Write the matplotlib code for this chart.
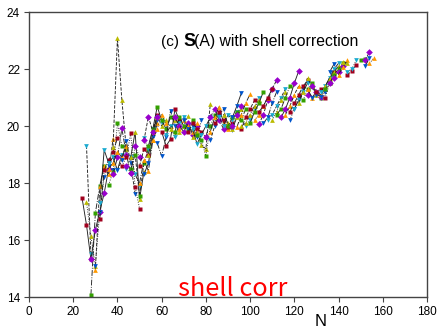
import matplotlib
matplotlib.use('Agg')
import matplotlib.pyplot as plt

# isotopic chains: (first N, S values at N, N+2, N+4 ...)
chains_light = [
    (24, [17.47, 16.53, 15.32]),
    (26, [19.31, 15.5]),
    (26, [17.33, 16.14, 15.1]),
    (28, [14.07, 16.94, 17.9, 18.6]),
    (28, [15.32, 16.35, 17.0, 17.64, 18.5]),
    (30, [14.95, 17.9, 18.6, 18.3, 19.56]),
    (30, [15.1, 17.0, 18.2, 18.6, 18.45]),
    (32, [16.73, 18.45, 18.8, 19.1, 19.57]),
    (32, [17.29, 19.16, 18.7, 18.9, 18.45, 19.0]),
    (38, [19.27, 23.08, 20.91, 19.2]),
]
chains_mid = [
    (36, [17.93, 18.4, 20.09, 19.3]),
    (38, [18.3, 18.9, 19.92, 19.0, 18.36]),
    (36, [18.5, 18.7, 19.1, 18.9, 19.3]),
    (40, [18.45, 18.8, 19.48, 18.7, 17.6]),
    (42, [18.6, 18.9, 19.74, 17.87, 17.1]),
    (44, [18.5, 18.9, 18.33, 17.9]),
    (46, [18.9, 19.79, 17.44, 18.4]),
    (46, [18.5, 19.0, 17.54, 18.7, 19.2]),
    (44, [18.6, 18.35, 19.31, 18.9]),
    (50, [18.0, 18.8, 18.42, 19.5, 20.1]),
    (52, [18.3, 18.7, 19.6, 20.2]),
    (50, [18.6, 19.2, 19.0, 19.8, 20.4]),
    (52, [19.57, 19.2, 19.9, 20.3, 20.1]),
    (54, [19.0, 19.8, 20.33, 20.0, 20.2]),
    (54, [19.3, 19.9, 20.68, 20.2, 19.9, 20.3]),
    (52, [19.5, 20.33, 19.8, 20.3]),
    (56, [19.5, 19.9, 20.4, 20.1, 20.0]),
    (58, [19.4, 18.95, 19.6, 20.53, 20.0]),
    (60, [19.8, 19.3, 19.54, 20.59, 20.2]),
    (62, [19.7, 20.0, 19.6, 20.1, 20.3]),
    (64, [19.9, 20.2, 19.8, 20.0, 20.36]),
    (66, [19.8, 20.3, 20.0, 19.9, 20.2]),
    (66, [20.3, 20.0, 19.8, 20.1, 19.7, 20.0]),
    (68, [19.9, 20.2, 20.0, 19.8, 20.1]),
    (70, [20.2, 19.9, 20.0, 19.6, 20.2]),
    (72, [19.8, 20.1, 19.9, 19.8, 19.6]),
    (74, [19.9, 19.37, 19.7, 20.0, 20.3]),
    (74, [19.6, 19.8, 19.33, 19.2, 20.76]),
    (76, [19.7, 19.5, 18.95, 20.0, 20.4]),
]
chains_heavy = [
    (80, [19.6, 20.3, 20.6, 20.2, 19.9]),
    (82, [19.8, 20.3, 20.68, 20.1, 19.9]),
    (82, [19.5, 20.0, 20.4, 20.6, 20.0, 19.86]),
    (84, [20.1, 20.5, 20.2, 19.95, 20.1]),
    (86, [20.3, 20.0, 20.4, 20.2, 20.5]),
    (88, [20.4, 20.1, 19.9, 20.3, 20.6]),
    (90, [20.0, 20.3, 20.5, 20.2, 20.6]),
    (92, [20.0, 20.4, 20.71]),
    (94, [19.95, 20.4, 20.8, 21.12]),
    (92, [20.3, 20.7, 21.15]),
    (96, [19.9, 20.3, 20.6, 20.9]),
    (98, [20.0, 20.2, 20.6, 21.0]),
    (96, [20.0, 20.1, 20.4, 20.7, 20.9]),
    (100, [20.1, 20.5, 20.8, 21.2]),
    (104, [20.06, 20.4, 20.9, 21.3, 21.61]),
    (102, [20.2, 20.4, 20.7, 21.0]),
    (106, [20.1, 20.3, 20.8, 21.2]),
    (104, [20.5, 20.7, 21.0, 21.3]),
    (108, [20.2, 20.4, 20.7, 21.0, 21.3]),
    (110, [20.2, 20.5, 20.9, 21.2]),
    (112, [20.4, 20.6, 21.0, 21.4]),
    (114, [20.3, 20.6, 21.0, 21.5, 21.93]),
    (116, [20.4, 20.7, 21.1, 21.4]),
    (118, [20.21, 20.6, 21.0, 21.3]),
    (118, [20.5, 20.8, 21.1, 21.4, 21.6]),
    (120, [20.6, 20.9, 21.2, 21.5]),
]
chains_tail = [
    (122, [20.8, 21.2, 21.67, 21.4, 21.1]),
    (124, [20.9, 21.3, 21.5, 21.2, 21.0]),
    (126, [21.1, 21.4, 21.2, 21.03]),
    (126, [21.3, 21.0, 21.2, 21.1, 21.3]),
    (128, [21.0, 21.1, 21.03, 21.2, 21.6]),
    (130, [21.2, 21.3, 20.99, 21.5, 21.9]),
    (132, [21.2, 21.4, 21.7, 22.0, 22.2]),
    (134, [21.4, 21.67, 21.9, 22.1]),
    (134, [21.3, 21.5, 21.8, 22.0, 22.2]),
    (136, [21.5, 21.7, 21.9, 22.1]),
    (140, [21.8, 22.08, 22.3]),
    (136, [21.9, 22.18]),
    (144, [21.8, 21.93, 22.14]),
    (144, [21.9, 22.0, 22.3]),
    (142, [22.26, 22.2]),
    (150, [22.33, 22.35]),
    (152, [22.3, 22.6]),
    (154, [22.2, 22.39]),
    (152, [22.1, 22.37]),
]

colors = ['#A0001E', '#FF9900', '#33A000', '#1AAAD0', '#0055CC', '#9900CC', '#BBBB00']
markers = ['s', 'v', '^', 's', 'D', '^', 'v']
styles = ['-', '--', ':', '-.']

plt.rcParams['font.family'] = ['Liberation Sans', 'DejaVu Sans']
fig = plt.figure(figsize=(4.37, 3.31), dpi=100)
ax = fig.add_axes([0.0664, 0.1027, 0.9106, 0.861])

k = 0
for group in (chains_light, chains_mid, chains_heavy, chains_tail):
    for n0, ys in group:
        ns = [n0 + 2 * i for i in range(len(ys))]
        ax.plot(ns, ys, color='#222222', lw=0.65, ls=styles[k % 4])
        ax.plot(ns, ys, ls='none', marker=markers[k % 7], ms=3.4,
                color=colors[(k * 3) % 7], mec='none')
        k += 1

ax.set_xlim(0, 180)
ax.set_ylim(14, 24)
ax.set_xticks(range(0, 181, 20))
ax.set_yticks(range(14, 25, 2))
ax.tick_params(direction='out', length=3.5, width=0.8, labelsize=8.5,
               color='#444444', pad=3)
for s in ax.spines.values():
    s.set_color('#444444')
    s.set_linewidth(1.0)

W, H = 437.0, 331.0
fig.text(161 / W, 1 - 46 / H, '(c)', fontsize=11, va='baseline')
fig.text(183 / W, 1 - 46 / H, 'S', fontsize=13, fontweight='bold', va='baseline')
fig.text(194 / W, 1 - 46 / H, '(A) with shell correction', fontsize=11.3, va='baseline')
fig.text(178 / W, 1 - 296 / H, 'shell corr', fontsize=18.2, color='red',
         family=['Noto Sans CJK KR', 'DejaVu Sans'], va='baseline')
fig.text(321 / W, 2 / H, 'N', fontsize=12, ha='center', va='bottom')

fig.savefig('out.png', dpi=100)
